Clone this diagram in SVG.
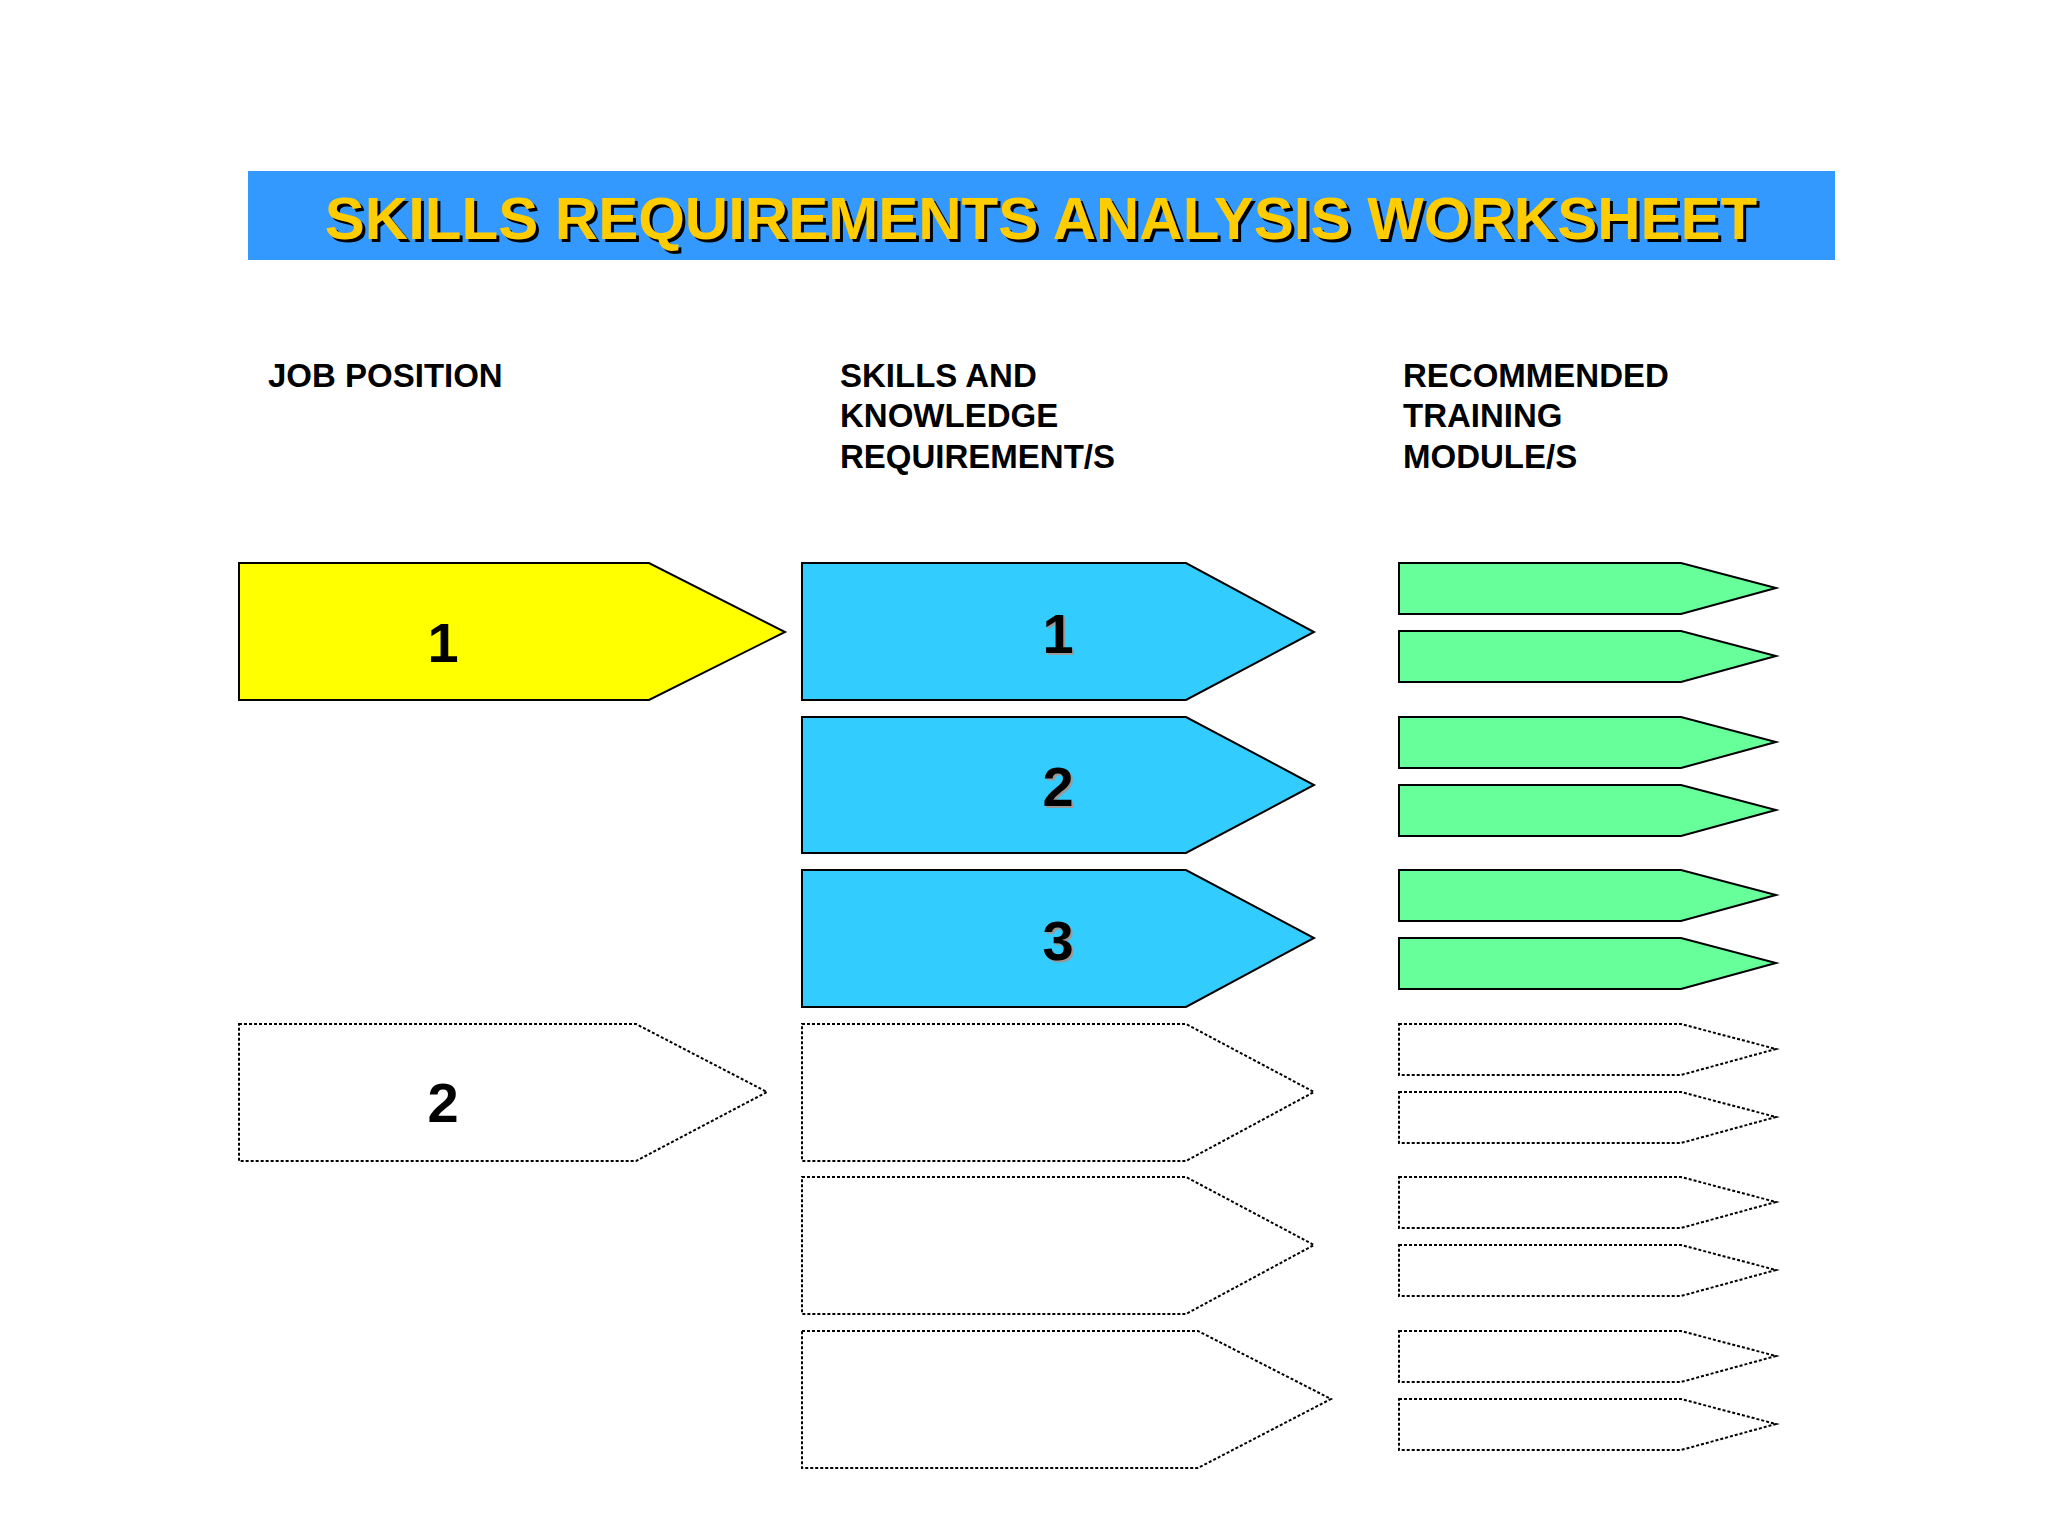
<svg xmlns="http://www.w3.org/2000/svg" width="2048" height="1536" viewBox="0 0 2048 1536">
<defs>
<style>
.t{font-family:"Liberation Sans",Arial,sans-serif;font-weight:bold}
.h{font-size:33px;fill:#000}
.n{font-size:56px;fill:#000;text-anchor:middle}
.ns{font-size:56px;fill:#999;text-anchor:middle}
.s{stroke:#000;stroke-width:2}
.d{fill:#fff;stroke:#000;stroke-width:2;stroke-dasharray:3 2}
.y{fill:#FFFF00}.b{fill:#33CCFF}.g{fill:#66FF99}
</style>
</defs>
<rect width="2048" height="1536" fill="#fff"/>
<g id="banner">
<rect x="248" y="171" width="1587" height="89" fill="#3399FF"/>
<text class="t" x="1044" y="242" font-size="60" text-anchor="middle" fill="#000">SKILLS  REQUIREMENTS  ANALYSIS  WORKSHEET</text>
<text class="t" x="1041" y="239" font-size="60" text-anchor="middle" fill="#FFCC00">SKILLS  REQUIREMENTS  ANALYSIS  WORKSHEET</text>
</g>
<g id="headers">
<text class="t h" x="268" y="387">JOB POSITION</text>
<text class="t h" x="840" y="387">SKILLS AND</text>
<text class="t h" x="840" y="427">KNOWLEDGE</text>
<text class="t h" x="840" y="468">REQUIREMENT/S</text>
<text class="t h" x="1403" y="387">RECOMMENDED</text>
<text class="t h" x="1403" y="427">TRAINING</text>
<text class="t h" x="1403" y="468">MODULE/S</text>
</g>
<g id="job1"><polygon class="y s" points="239,563 649,563 785,632 649,700 239,700"/><text class="t n" x="443" y="662">1</text></g>
<g id="job2"><polygon class="d" points="239,1024 636,1024 767,1092 636,1161 239,1161"/><text class="t n" x="443" y="1122">2</text></g>
<g id="skill1"><polygon class="b s" points="802,563 1186,563 1314,632 1186,700 802,700"/><text class="t ns" x="1060" y="655">1</text><text class="t n" x="1058" y="653">1</text></g>
<g id="skill2"><polygon class="b s" points="802,717 1186,717 1314,785 1186,853 802,853"/><text class="t ns" x="1060" y="808">2</text><text class="t n" x="1058" y="806">2</text></g>
<g id="skill3"><polygon class="b s" points="802,870 1186,870 1314,938 1186,1007 802,1007"/><text class="t ns" x="1060" y="962">3</text><text class="t n" x="1058" y="960">3</text></g>
<g id="skill4"><polygon class="d" points="802,1024 1186,1024 1314,1092 1186,1161 802,1161"/></g>
<g id="skill5"><polygon class="d" points="802,1177 1186,1177 1314,1245 1186,1314 802,1314"/></g>
<g id="skill6"><polygon class="d" points="802,1331 1198,1331 1331,1399 1198,1468 802,1468"/></g>
<g id="modules">
<polygon class="g s" points="1399,563 1681,563 1776,588 1681,614 1399,614"/>
<polygon class="g s" points="1399,631 1681,631 1776,656 1681,682 1399,682"/>
<polygon class="g s" points="1399,717 1681,717 1776,742 1681,768 1399,768"/>
<polygon class="g s" points="1399,785 1681,785 1776,810 1681,836 1399,836"/>
<polygon class="g s" points="1399,870 1681,870 1776,895 1681,921 1399,921"/>
<polygon class="g s" points="1399,938 1681,938 1776,963 1681,989 1399,989"/>
<polygon class="d" points="1399,1024 1681,1024 1776,1049 1681,1075 1399,1075"/>
<polygon class="d" points="1399,1092 1681,1092 1776,1117 1681,1143 1399,1143"/>
<polygon class="d" points="1399,1177 1681,1177 1776,1202 1681,1228 1399,1228"/>
<polygon class="d" points="1399,1245 1681,1245 1776,1270 1681,1296 1399,1296"/>
<polygon class="d" points="1399,1331 1681,1331 1776,1356 1681,1382 1399,1382"/>
<polygon class="d" points="1399,1399 1681,1399 1776,1424 1681,1450 1399,1450"/>
</g>
<g id="connectors"></g>
</svg>
